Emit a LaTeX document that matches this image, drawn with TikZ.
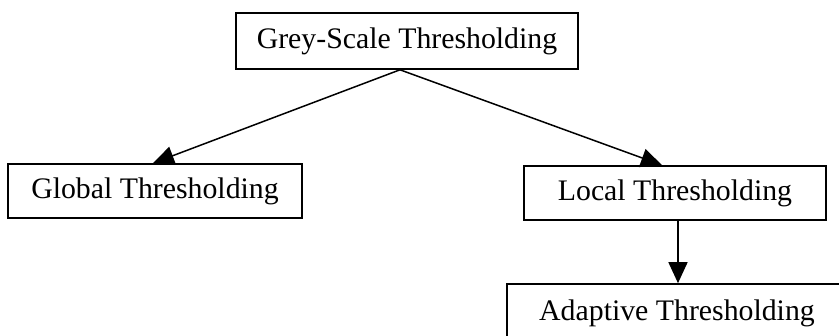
\documentclass[tikz,border=0pt]{standalone}
\usepackage{fontspec}
\setmainfont{Liberation Serif}
\usetikzlibrary{arrows.meta}
\begin{document}
\begin{tikzpicture}[x=1pt,y=1pt,
  box/.style={draw, line width=1.6pt, inner sep=0pt, font=\fontsize{29.8}{34}\selectfont},
  link/.style={line width=1.5pt, -{Triangle[length=21pt,width=19pt]}}]
  \useasboundingbox (0,0) rectangle (839,336);
  \clip (0,0) rectangle (839,336);
  \node[box, minimum width=342pt, minimum height=56pt] (grey) at (407,295) {Grey-Scale Thresholding};
  \node[box, minimum width=294pt, minimum height=54pt] (global) at (155,145) {Global Thresholding};
  \node[box, minimum width=302pt, minimum height=54pt] (local) at (675,143) {Local Thresholding};
  \node[box, minimum width=340pt, minimum height=58pt] (adaptive) at (677,23) {Adaptive Thresholding};
  \coordinate (apex) at ([xshift=-7pt]grey.south);
  \draw[link] (apex) -- ([xshift=-2pt]global.north);
  \draw[link] (apex) -- ([xshift=-13pt]local.north);
  \draw[link] ([xshift=3pt]local.south) -- ([xshift=3pt]local.south |- adaptive.north);
\end{tikzpicture}
\end{document}
